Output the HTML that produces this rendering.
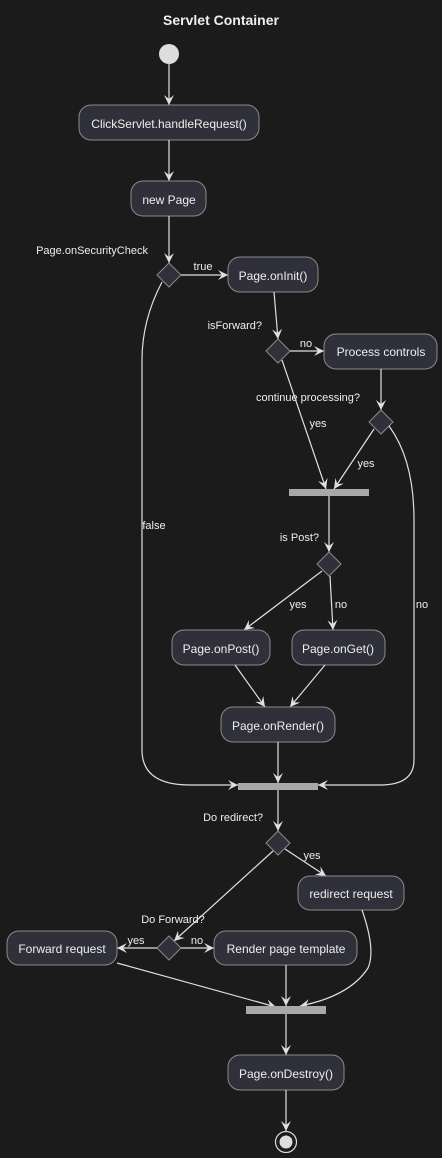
<!DOCTYPE html>
<html><head><meta charset="utf-8"><style>
html,body{margin:0;padding:0;background:#1b1b1c;}
svg{display:block;}
text{font-family:"Liberation Sans",sans-serif;fill:#eeeeee;font-size:12px;}
text.s{font-size:11px;}
.n{fill:#30303a;stroke:#8a8a8a;stroke-width:1;}
.l{stroke:#e0e0e0;stroke-width:1.2;fill:none;}
.bar{fill:#a8a8a8;}
</style></head><body>
<svg width="442" height="1158" viewBox="0 0 442 1158" xmlns="http://www.w3.org/2000/svg">
<defs><marker id="a" viewBox="0 0 10 10" refX="10" refY="5" markerWidth="10" markerHeight="10" orient="auto" markerUnits="userSpaceOnUse"><path d="M0,0 L10,5 L0,10 L4,5 Z" fill="#e0e0e0"/></marker></defs>
<rect width="442" height="1158" fill="#1b1b1c"/>
<text x="221" y="25" text-anchor="middle" style="font-size:14px;font-weight:bold">Servlet Container</text>
<circle cx="169" cy="54" r="10" fill="#dddddd"/>
<path class="l" d="M169,64 V105" marker-end="url(#a)"/>
<rect class="n" x="79" y="105" width="180" height="35" rx="12"/>
<text x="169" y="128" text-anchor="middle">ClickServlet.handleRequest()</text>
<path class="l" d="M169,140 V181" marker-end="url(#a)"/>
<rect class="n" x="131" y="181" width="75" height="35" rx="12"/>
<text x="169" y="204" text-anchor="middle">new Page</text>
<path class="l" d="M169,216 V263" marker-end="url(#a)"/>
<text class="s" x="148" y="254" text-anchor="end">Page.onSecurityCheck</text>
<path class="n" d="M169,263 L181,275 L169,287 L157,275 Z"/>
<path class="l" d="M181,275 H228" marker-end="url(#a)"/>
<text class="s" x="203" y="270" text-anchor="middle">true</text>
<rect class="n" x="228" y="257" width="90" height="35" rx="12"/>
<text x="273" y="280" text-anchor="middle">Page.onInit()</text>
<path class="l" d="M274,292 L278,339" marker-end="url(#a)"/>
<text class="s" x="262" y="329" text-anchor="end">isForward?</text>
<path class="n" d="M278,339 L290,351 L278,363 L266,351 Z"/>
<path class="l" d="M290,351 H324" marker-end="url(#a)"/>
<text class="s" x="306" y="347" text-anchor="middle">no</text>
<rect class="n" x="324" y="334" width="113" height="35" rx="12"/>
<text x="381" y="356" text-anchor="middle">Process controls</text>
<path class="l" d="M381,369 V410" marker-end="url(#a)"/>
<text class="s" x="360" y="401" text-anchor="end">continue processing?</text>
<path class="n" d="M381,410 L393,422 L381,434 L369,422 Z"/>
<path class="l" d="M282,360 L326,489" marker-end="url(#a)"/>
<text class="s" x="318" y="427" text-anchor="middle">yes</text>
<path class="l" d="M374,429 L334,489" marker-end="url(#a)"/>
<text class="s" x="366" y="467" text-anchor="middle">yes</text>
<rect class="bar" x="289" y="489" width="80" height="7"/>
<path class="l" d="M389,426 Q414,460 414,520 V760 Q414,785 380,785 H318" marker-end="url(#a)"/>
<text class="s" x="422" y="608" text-anchor="middle">no</text>
<path class="l" d="M162,282 Q142,320 142,360 V750 Q142,785 190,785 H238" marker-end="url(#a)"/>
<text class="s" x="154" y="529" text-anchor="middle">false</text>
<path class="l" d="M329,496 V552" marker-end="url(#a)"/>
<text class="s" x="319" y="541" text-anchor="end">is Post?</text>
<path class="n" d="M329,552 L341,564 L329,576 L317,564 Z"/>
<path class="l" d="M322,571 L244,630" marker-end="url(#a)"/>
<text class="s" x="298" y="608" text-anchor="middle">yes</text>
<path class="l" d="M330,576 L333,630" marker-end="url(#a)"/>
<text class="s" x="341" y="608" text-anchor="middle">no</text>
<rect class="n" x="172" y="630" width="98" height="35" rx="12"/>
<text x="221" y="653" text-anchor="middle">Page.onPost()</text>
<rect class="n" x="292" y="630" width="93" height="35" rx="12"/>
<text x="338" y="653" text-anchor="middle">Page.onGet()</text>
<path class="l" d="M235,665 L265,707" marker-end="url(#a)"/>
<path class="l" d="M325,665 L290,707" marker-end="url(#a)"/>
<rect class="n" x="221" y="707" width="114" height="35" rx="12"/>
<text x="278" y="730" text-anchor="middle">Page.onRender()</text>
<path class="l" d="M278,742 V783" marker-end="url(#a)"/>
<rect class="bar" x="238" y="783" width="80" height="7"/>
<path class="l" d="M278,790 V831" marker-end="url(#a)"/>
<text class="s" x="263" y="821" text-anchor="end">Do redirect?</text>
<path class="n" d="M278,831 L290,843 L278,855 L266,843 Z"/>
<path class="l" d="M285,849 L326,876" marker-end="url(#a)"/>
<text class="s" x="312" y="859" text-anchor="middle">yes</text>
<rect class="n" x="298" y="876" width="106" height="34" rx="12"/>
<text x="351" y="898" text-anchor="middle">redirect request</text>
<path class="l" d="M273,851 L174,941" marker-end="url(#a)"/>
<text class="s" x="173" y="923" text-anchor="middle">Do Forward?</text>
<path class="n" d="M169,936 L181,948 L169,960 L157,948 Z"/>
<path class="l" d="M157,948 H117" marker-end="url(#a)"/>
<text class="s" x="136" y="944" text-anchor="middle">yes</text>
<path class="l" d="M181,948 H214" marker-end="url(#a)"/>
<text class="s" x="197" y="944" text-anchor="middle">no</text>
<rect class="n" x="7" y="931" width="110" height="34" rx="12"/>
<text x="62" y="953" text-anchor="middle">Forward request</text>
<rect class="n" x="214" y="931" width="143" height="34" rx="12"/>
<text x="286" y="953" text-anchor="middle">Render page template</text>
<path class="l" d="M117,963 L276,1007" marker-end="url(#a)"/>
<path class="l" d="M286,965 V1006" marker-end="url(#a)"/>
<path class="l" d="M362,910 Q376,950 368,968 Q350,996 300,1006" marker-end="url(#a)"/>
<rect class="bar" x="246" y="1006" width="80" height="8"/>
<path class="l" d="M286,1014 V1055" marker-end="url(#a)"/>
<rect class="n" x="228" y="1055" width="116" height="35" rx="12"/>
<text x="286" y="1078" text-anchor="middle">Page.onDestroy()</text>
<path class="l" d="M286,1090 V1131" marker-end="url(#a)"/>
<circle cx="286" cy="1142" r="10.5" fill="none" stroke="#dddddd" stroke-width="1.2"/>
<circle cx="286" cy="1142" r="6.5" fill="#dddddd"/>
</svg>
</body></html>
